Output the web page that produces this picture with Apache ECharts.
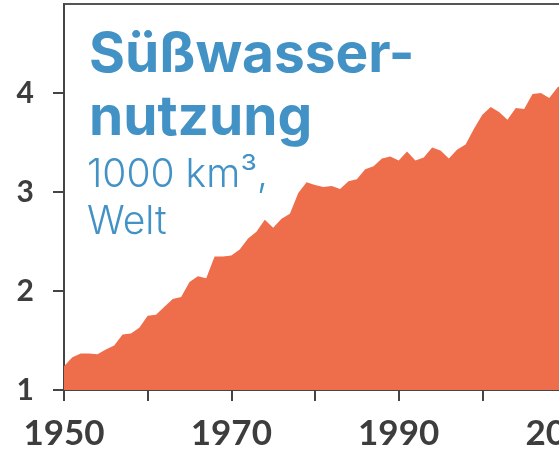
<!DOCTYPE html>
<html>
<head>
<meta charset="utf-8">
<script src="https://cdn.jsdelivr.net/npm/echarts@6/dist/echarts.min.js"></script>
<style>
	html, body { margin: 0; padding: 0; background: #fff; }
	#chart { width: 559px; height: 450px; }
</style>
</head>
<body>
<div id="chart"></div>
<script>
// Süßwassernutzung weltweit, 1000 km³
var years = [];
for (var y = 1950; y <= 2010; y++) years.push(y);
var usage = [
	1.24, 1.33, 1.37, 1.37, 1.36, 1.41, 1.45, 1.56, 1.57, 1.63,
	1.75, 1.76, 1.84, 1.92, 1.94, 2.09, 2.15, 2.13, 2.35, 2.35,
	2.36, 2.42, 2.53, 2.60, 2.72, 2.64, 2.73, 2.78, 2.99, 3.10,
	3.07, 3.05, 3.06, 3.03, 3.11, 3.13, 3.23, 3.26, 3.34, 3.36,
	3.32, 3.41, 3.32, 3.35, 3.45, 3.42, 3.34, 3.43, 3.48, 3.64,
	3.78, 3.86, 3.81, 3.73, 3.85, 3.84, 3.99, 4.00, 3.95, 4.06,
	4.10
];
var yTicks = [1, 2, 3, 4];
var xTicks = [1950, 1960, 1970, 1980, 1990, 2000, 2010];
var xLabels = [1950, 1970, 1990, 2010];

var titleLines = ['Süßwasser-', 'nutzung'];
var subLines = ['1000 km³,', 'Welt'];

var chart = echarts.init(document.getElementById('chart'));

var axisColor = '#444';
var blue = '#4292c6';

chart.setOption({
	animation: false,
	grid: {
		left: 64,
		top: 4,
		width: 502,
		height: 386,
		outerBoundsMode: 'none',
		containLabel: false,
		show: true,
		borderColor: '#555',
		borderWidth: 2,
		backgroundColor: 'transparent'
	},
	xAxis: {
		type: 'value',
		min: 1950,
		max: 2010,
		interval: 10,
		splitLine: { show: false },
		axisLine: { show: true, lineStyle: { color: axisColor, width: 2 } },
		axisTick: { show: true, inside: false, length: 11, customValues: xTicks, lineStyle: { color: axisColor, width: 2 } },
		axisLabel: {
			margin: 26,
			customValues: xLabels,
			formatter: function(v){ return String(v); },
			fontFamily: 'Lato',
			fontWeight: 'bold',
			fontSize: 35,
			color: '#3d3d3d'
		}
	},
	yAxis: {
		type: 'value',
		min: 1,
		max: 4.9,
		interval: 1,
		splitLine: { show: false },
		axisLine: { show: true, lineStyle: { color: axisColor, width: 2 } },
		axisTick: { show: true, inside: false, length: 11, customValues: yTicks, lineStyle: { color: axisColor, width: 2 } },
		axisLabel: {
			margin: 30,
			customValues: yTicks,
			formatter: function(v){ return String(v); },
			fontFamily: 'Lato',
			fontWeight: 'bold',
			fontSize: 30,
			color: '#3d3d3d'
		}
	},
	series: [{
		type: 'line',
		data: years.map(function(yr, i){ return [yr, usage[i]]; }),
		symbol: 'none',
		lineStyle: { width: 0 },
		areaStyle: { color: '#ee6e4c', opacity: 1 },
		z: 1
	}],
	graphic: [
		{ type: 'text', left: 89, top: 28, z: 10, style: { text: titleLines[0], fill: blue, font: 'bold 55px Inter' } },
		{ type: 'text', left: 89, top: 91, z: 10, style: { text: titleLines[1], fill: blue, font: 'bold 55px Inter' } },
		{ type: 'text', left: 87, top: 156, z: 10, style: { text: subLines[0], fill: blue, font: '300 39px Inter' } },
		{ type: 'text', left: 87, top: 203, z: 10, style: { text: subLines[1], fill: blue, font: '300 39px Inter' } }
	]
});
</script>
</body>
</html>
